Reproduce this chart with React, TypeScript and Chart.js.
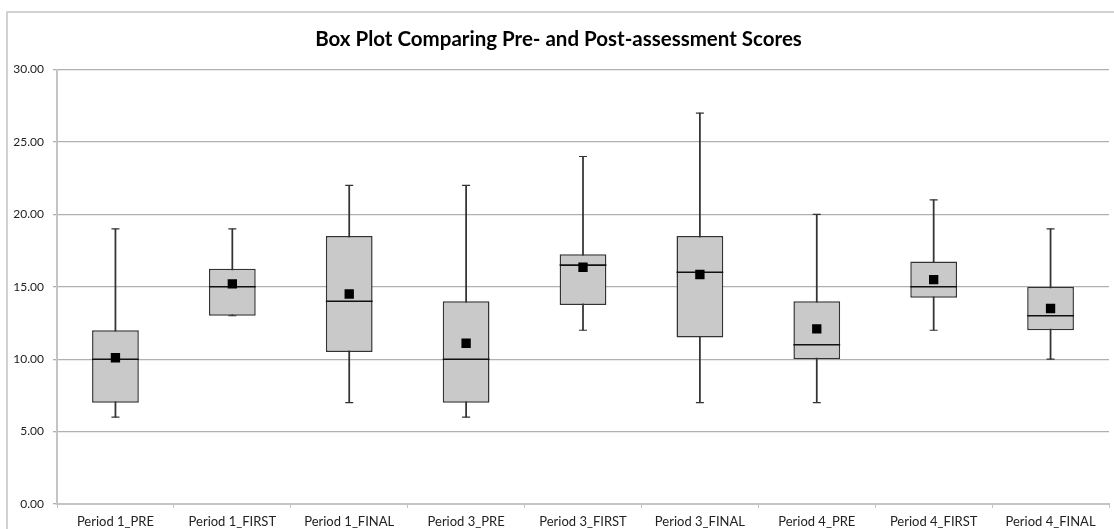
import React, { useEffect, useRef } from "react";
import { Chart, registerables } from "chart.js";

Chart.register(...registerables);

const categories = [
  "Period 1_PRE",
  "Period 1_FIRST",
  "Period 1_FINAL",
  "Period 3_PRE",
  "Period 3_FIRST",
  "Period 3_FINAL",
  "Period 4_PRE",
  "Period 4_FIRST",
  "Period 4_FINAL",
];
const minValues = [6, 13, 7, 6, 12, 7, 7, 12, 10];
const q1Values = [7, 13, 10.5, 7, 13.75, 11.5, 10, 14.25, 12];
const medianValues = [10, 15, 14, 10, 16.5, 16, 11, 15, 13];
const q3Values = [12, 16.25, 18.5, 14, 17.25, 18.5, 14, 16.75, 15];
const maxValues = [19, 19, 22, 22, 24, 27, 20, 21, 19];
const meanValues = [10.1, 15.2, 14.5, 11.1, 16.35, 15.85, 12.1, 15.5, 13.5];

const yMin = 0;
const yMax = 30;
const yStep = 5;

const titleText = "Box Plot Comparing Pre- and Post-assessment Scores";

const BOX_FRACTION = 0.4;

export default function App() {
  const canvasRef = useRef<HTMLCanvasElement | null>(null);

  useEffect(() => {
    if (!canvasRef.current) return;
    const halfBox = (ctx: any) => {
      const area = ctx.chart.chartArea;
      if (!area) return 23;
      return ((area.right - area.left) / categories.length) * BOX_FRACTION / 2;
    };
    const chart = new Chart(canvasRef.current, {
      type: "bar",
      data: {
        labels: categories,
        datasets: [
          {
            type: "line",
            label: "Mean",
            data: meanValues,
            showLine: false,
            pointStyle: "rect",
            pointRadius: 6.6,
            pointBackgroundColor: "#000000",
            pointBorderColor: "#000000",
            pointBorderWidth: 0,
            order: 0,
          } as any,
          {
            type: "line",
            label: "Median",
            data: medianValues,
            showLine: false,
            pointStyle: "line",
            pointRadius: halfBox,
            pointBorderColor: "#111111",
            pointBorderWidth: 1.6,
            order: 1,
          } as any,
          {
            type: "bar",
            label: "Box",
            data: q1Values.map((q, i) => [q, q3Values[i]]),
            backgroundColor: "#c9c9c9",
            borderColor: "#333333",
            borderWidth: 1.5,
            borderSkipped: false,
            barPercentage: BOX_FRACTION,
            categoryPercentage: 1,
            grouped: false,
            order: 2,
          } as any,
          {
            type: "line",
            label: "Max cap",
            data: maxValues,
            showLine: false,
            pointStyle: "line",
            pointRadius: 4,
            pointBorderColor: "#333333",
            pointBorderWidth: 1.2,
            order: 3,
          } as any,
          {
            type: "line",
            label: "Min cap",
            data: minValues,
            showLine: false,
            pointStyle: "line",
            pointRadius: 4,
            pointBorderColor: "#333333",
            pointBorderWidth: 1.2,
            order: 3,
          } as any,
          {
            type: "bar",
            label: "Whisker",
            data: minValues.map((m, i) => [m, maxValues[i]]),
            backgroundColor: "#333333",
            borderWidth: 0,
            barThickness: 1.1,
            grouped: false,
            order: 4,
          } as any,
        ],
      },
      options: {
        responsive: false,
        maintainAspectRatio: false,
        animation: false,
        layout: { autoPadding: false, padding: { left: 0, right: 5, top: 0, bottom: 0 } },
        plugins: {
          legend: { display: false },
          tooltip: { enabled: false },
          title: {
            display: true,
            text: titleText,
            color: "#000000",
            font: { family: "Lato", size: 20.5, weight: "bold" },
            padding: { top: 14.5, bottom: 17.5 },
          },
        },
        scales: {
          x: {
            type: "category",
            offset: true,
            grid: {
              offset: true,
              drawOnChartArea: false,
              drawTicks: true,
              tickLength: 4,
              color: "#c4c4c4",
            },
            border: { color: "#c4c4c4", width: 2 },
            ticks: {
              color: "#222222",
              font: { family: "Lato", size: 13 },
              padding: 6,
              maxRotation: 0,
              autoSkip: false,
            },
            afterFit: (scale: any) => {
              scale.height = 25;
              scale.paddingLeft = 0;
              scale.paddingRight = 0;
            },
          },
          y: {
            min: yMin,
            max: yMax,
            grid: {
              color: "#b0b0b0",
              lineWidth: 1.3,
              tickLength: 4,
              drawTicks: true,
            },
            border: { color: "#c4c4c4", width: 2 },
            ticks: {
              stepSize: yStep,
              color: "#222222",
              font: { family: "Lato", size: 12 },
              padding: 9,
              callback: (v: any) => Number(v).toFixed(2),
            },
            afterFit: (scale: any) => {
              scale.width = 49;
            },
          },
        },
      } as any,
    });
    return () => chart.destroy();
  }, []);

  return (
    <div
      style={{
        position: "absolute",
        left: 6,
        top: 11,
        width: 1108,
        height: 518,
        borderTop: "2px solid #d2d2d2",
        borderLeft: "2px solid #d2d2d2",
        boxSizing: "border-box",
        background: "#ffffff",
      }}
    >
      <canvas
        ref={canvasRef}
        width={1106}
        height={516}
        style={{ display: "block", width: 1106, height: 516 }}
      />
    </div>
  );
}
